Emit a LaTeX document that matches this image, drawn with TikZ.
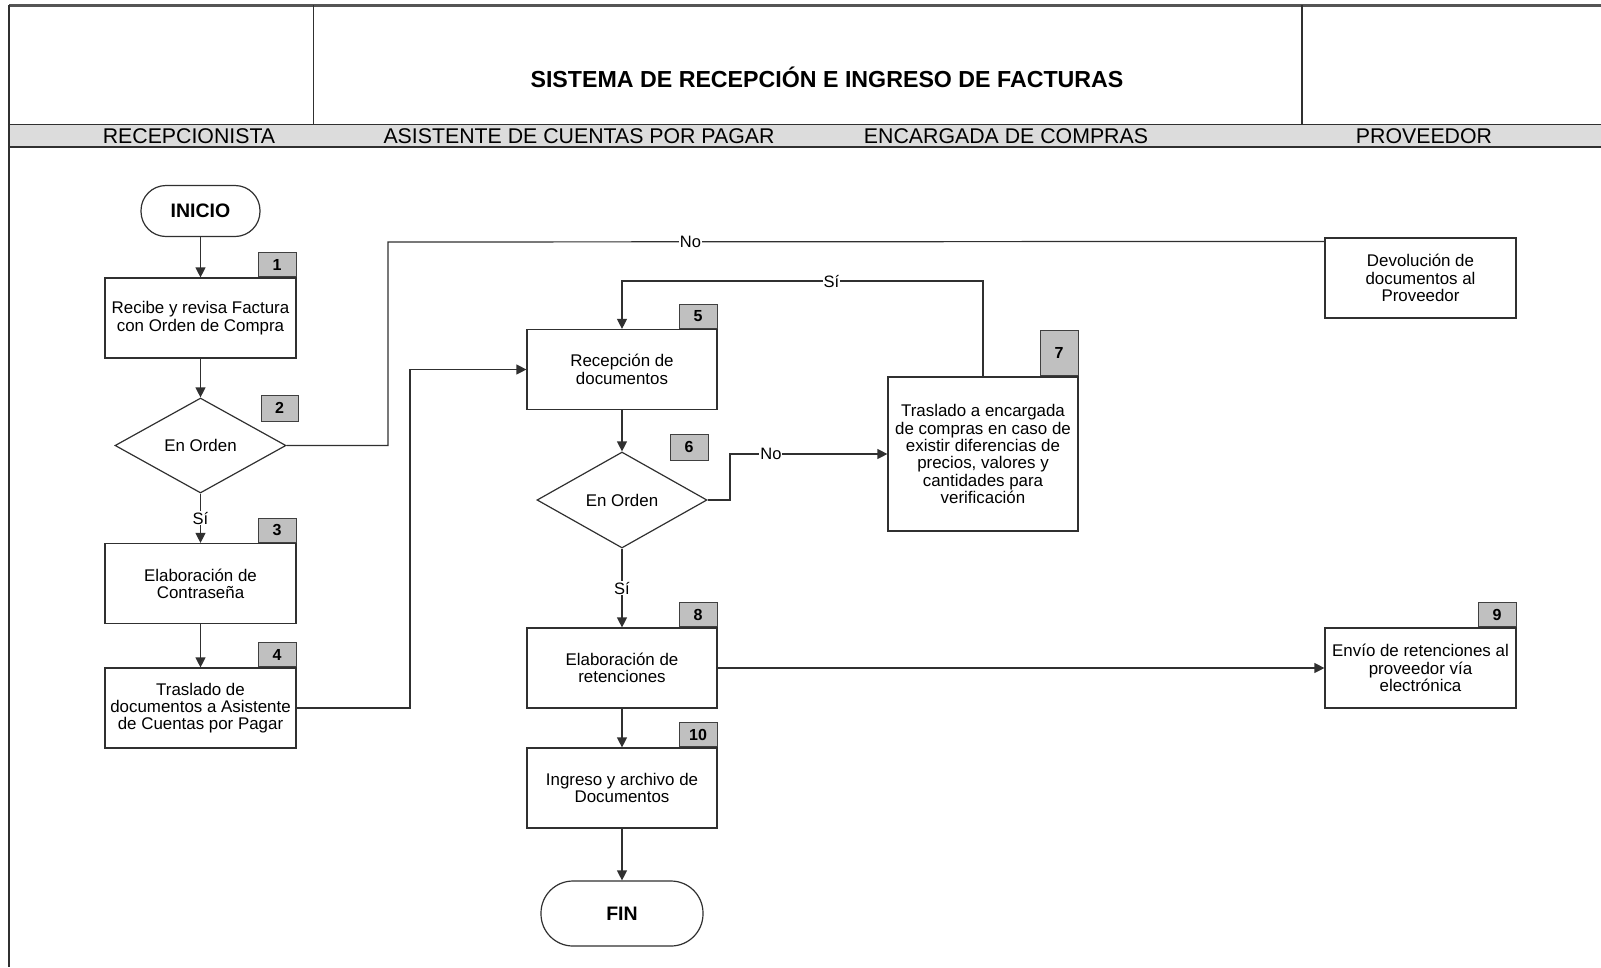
\documentclass[tikz,border=0pt]{standalone}
\usepackage{fontspec}
\setmainfont{Liberation Sans}
\usetikzlibrary{arrows.meta,shapes.geometric}
\definecolor{linec}{HTML}{303030}
\definecolor{framec}{HTML}{555555}
\definecolor{bandgray}{HTML}{DCDCDC}
\definecolor{taggray}{HTML}{C0C0C0}
\definecolor{tagline}{HTML}{404040}
\begin{document}
\begin{tikzpicture}[x=1pt,y=-1pt,
  every node/.style={text=black},
  proc/.style={draw=linec, line width=1.2pt, fill=white, minimum width=191pt,
    minimum height=80pt, align=center, inner sep=2pt,
    font=\fontsize{16.9}{17.3}\selectfont},
  decide/.style={diamond, draw=linec, line width=1.2pt, fill=white,
    minimum width=171pt, minimum height=95pt, inner sep=0pt,
    font=\fontsize{16.9}{17.3}\selectfont},
  terminal/.style={draw=linec, line width=1.2pt, fill=white,
    font=\bfseries\fontsize{19.5}{20}\selectfont},
  tagbox/.style={draw=tagline, fill=taggray, line width=1pt, minimum width=38pt,
    minimum height=24pt, inner sep=0pt, font=\bfseries\fontsize{16}{16}\selectfont},
  conn/.style={draw=linec, line width=1.2pt},
  flow/.style={conn, -{Triangle[length=10pt,width=10pt]}},
  lbl/.style={fill=white, inner sep=1pt, font=\fontsize{16.5}{17}\selectfont},
  lane/.style={font=\fontsize{21.3}{22}\selectfont}]

\useasboundingbox (0,0) rectangle (1601,967);

% page frame and header
\fill[bandgray] (9,124.6) rectangle (1601,147);
\draw[framec, line width=3pt] (9,5) -- (1601,5);
\draw[linec, line width=2pt] (9,5) -- (9,967);
\draw[linec, line width=1.4pt] (313.5,5) -- (313.5,124.6);
\draw[linec, line width=1.4pt] (1302,5) -- (1302,124.6);
\draw[linec, line width=1.6pt] (9,124.6) -- (1601,124.6);
\draw[linec, line width=1.6pt] (9,147) -- (1601,147);

\node[font=\bfseries\fontsize{23.2}{25}\selectfont] (title) at (827,77.6)
  {SISTEMA DE RECEPCIÓN E INGRESO DE FACTURAS};
\node[lane] (l1) at (189,136) {RECEPCIONISTA};
\node[lane] (l2) at (579,136) {ASISTENTE DE CUENTAS POR PAGAR};
\node[lane] (l3) at (1006,136) {ENCARGADA DE COMPRAS};
\node[lane] (l4) at (1424,136) {PROVEEDOR};

% flow nodes
\node[terminal, minimum width=119pt, minimum height=51pt, rounded corners=25pt]
  (ini) at (200.5,211) {INICIO};
\node[proc] (b1) at (200.5,318) {Recibe y revisa Factura\\con Orden de Compra};
\node[decide] (d2) at (200.5,445.5) {En Orden};
\node[proc] (b3) at (200.5,583.5) {Elaboración de\\Contraseña};
\node[proc] (b4) at (200.5,708) {Traslado de\\documentos a Asistente\\de Cuentas por Pagar};
\node[proc, minimum width=190pt] (b5) at (622,369.5) {Recepción de\\documentos};
\node[decide, minimum width=170pt, minimum height=96pt] (d6) at (622,500) {En Orden};
\node[proc, minimum width=190pt, minimum height=154pt] (b7) at (983,454)
  {Traslado a encargada\\de compras en caso de\\existir diferencias de\\precios, valores y\\cantidades para\\verificación};
\node[proc, minimum width=190pt] (b8) at (622,668) {Elaboración de\\retenciones};
\node[proc] (b9) at (1420.5,668) {Envío de retenciones al\\proveedor vía\\electrónica};
\node[proc, minimum width=190pt] (b10) at (622,788) {Ingreso y archivo de\\Documentos};
\node[proc] (dev) at (1420.5,278) {Devolución de\\documentos al\\Proveedor};
\node[terminal, minimum width=162pt, minimum height=65pt, rounded corners=32pt]
  (fin) at (622,913.5) {FIN};

% step numbers
\node[tagbox, anchor=south east] (t1) at (b1.north east) {1};
\node[tagbox, minimum width=37pt, minimum height=26pt] (t2) at (279.5,408) {2};
\node[tagbox, anchor=south east] (t3) at (b3.north east) {3};
\node[tagbox, anchor=south east] (t4) at (b4.north east) {4};
\node[tagbox, anchor=south east] (t5) at (b5.north east) {5};
\node[tagbox, minimum height=26pt] (t6) at (689,447) {6};
\node[tagbox, anchor=south east, minimum height=45pt] (t7) at (b7.north east) {7};
\node[tagbox, anchor=south east] (t8) at (b8.north east) {8};
\node[tagbox, anchor=south east] (t9) at (b9.north east) {9};
\node[tagbox, anchor=south east] (t10) at (b10.north east) {10};

% connectors
\coordinate (devin) at ([yshift=-4pt]dev.north west);
\draw[flow] (ini) -- (b1);
\draw[flow] (b1) -- (d2);
\draw[flow] (d2) -- node[lbl]{Sí} (b3);
\draw[flow] (b3) -- (b4);
\draw[flow] (b4.east) -- (410,708) |- (b5.west);
\draw[conn] (d2.east) -- (388,445.5) -- (388,242) -- node[lbl,pos=0.323]{No} (devin);
\draw[flow] (b5) -- (d6);
\draw[flow] (d6.east) -- (730,500) |- node[lbl,pos=0.63]{No} (b7.west);
\draw[flow] (b7.north) -- (983,281) -- node[lbl,pos=0.42]{Sí} (622,281) -- (b5.north);
\draw[flow] (d6) -- node[lbl]{Sí} (b8);
\draw[flow] (b8) -- (b9);
\draw[flow] (b8) -- (b10);
\draw[flow] (b10) -- (fin);
\end{tikzpicture}
\end{document}
